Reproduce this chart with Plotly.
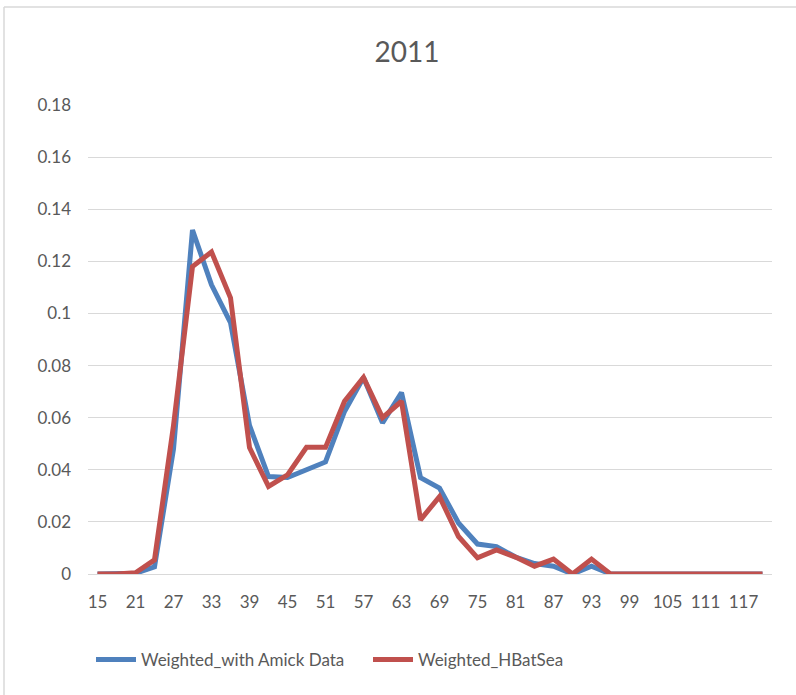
import plotly.graph_objects as go

categories = [str(v) for v in range(15, 121, 3)]
amick = [0, 0, 0.0003, 0.0027, 0.048, 0.132, 0.111, 0.0965, 0.057, 0.0374,
         0.037, 0.040, 0.043, 0.0624, 0.0754, 0.058, 0.0696, 0.037, 0.033, 0.0196,
         0.0115, 0.0105, 0.0065, 0.004, 0.003, 0, 0.003, 0, 0, 0,
         0, 0, 0, 0, 0, 0]
hbatsea = [0, 0, 0.0005, 0.0054, 0.057, 0.118, 0.1236, 0.106, 0.0485, 0.0336,
           0.038, 0.0486, 0.0486, 0.0663, 0.0754, 0.060, 0.0663, 0.0208, 0.0297, 0.0144,
           0.0062, 0.0092, 0.0065, 0.003, 0.0057, 0, 0.0057, 0, 0, 0,
           0, 0, 0, 0, 0, 0]
tick_vals = categories[::2]
y_ticks = [0, 0.02, 0.04, 0.06, 0.08, 0.1, 0.12, 0.14, 0.16, 0.18]
y_labels = ["0", "0.02", "0.04", "0.06", "0.08", "0.1", "0.12", "0.14", "0.16", "0.18"]

FONT = "Lato, 'Open Sans', sans-serif"
GREY = "#595959"

fig = go.Figure()
fig.add_trace(go.Scatter(x=categories, y=amick, mode="lines", name="Weighted_with Amick Data",
                         line=dict(color="#4F81BD", width=5)))
fig.add_trace(go.Scatter(x=categories, y=hbatsea, mode="lines", name="Weighted_HBatSea",
                         line=dict(color="#C0504D", width=5)))

W, H = 796, 695
L, R, T, B = 88, 24, 105, 121
pw, ph = W - L - R, H - T - B

fig.update_layout(
    width=W, height=H,
    margin=dict(l=L, r=R, t=T, b=B, autoexpand=False),
    paper_bgcolor="white", plot_bgcolor="white",
    font=dict(family=FONT, color=GREY, size=16),
    title=dict(text="2011", x=407 / W, xref="container", xanchor="center",
               y=1 - 52 / H, yref="container", yanchor="middle",
               font=dict(size=28, color=GREY)),
    xaxis=dict(type="category", categoryorder="array", categoryarray=categories,
               tickmode="array", tickvals=tick_vals, ticktext=tick_vals,
               showgrid=False, showline=True, linecolor="#D9D9D9", linewidth=1.3,
               ticks="", ticklabelstandoff=12, tickfont=dict(size=17, color=GREY),
               range=[-0.5, 35.5]),
    yaxis=dict(range=[0, 0.18], tickmode="array", tickvals=y_ticks, ticktext=y_labels,
               showgrid=True, gridcolor="#D9D9D9", gridwidth=1.3, zeroline=False,
               showline=False, ticks="", ticklabelstandoff=16,
               tickfont=dict(size=17, color=GREY)),
    legend=dict(orientation="h", x=(91 - L) / pw, xanchor="left",
                y=-(660 - (T + ph)) / ph, yanchor="middle",
                font=dict(size=17, color=GREY), itemwidth=40,
                entrywidth=222, entrywidthmode="pixels", traceorder="normal"),
    shapes=[
        dict(type="line", xref="paper", yref="paper",
             x0=(4 - L) / pw, x1=(W - L) / pw, y0=1 + (T - 7) / ph, y1=1 + (T - 7) / ph,
             line=dict(color="#D9D9D9", width=1.5)),
        dict(type="line", xref="paper", yref="paper",
             x0=(4 - L) / pw, x1=(4 - L) / pw, y0=1 + (T - 7) / ph, y1=-(H - T - ph) / ph,
             line=dict(color="#D9D9D9", width=1.5)),
    ],
)

fig.write_html("out.html", config={"displayModeBar": False},
               post_script="document.body.style.margin='0';")
